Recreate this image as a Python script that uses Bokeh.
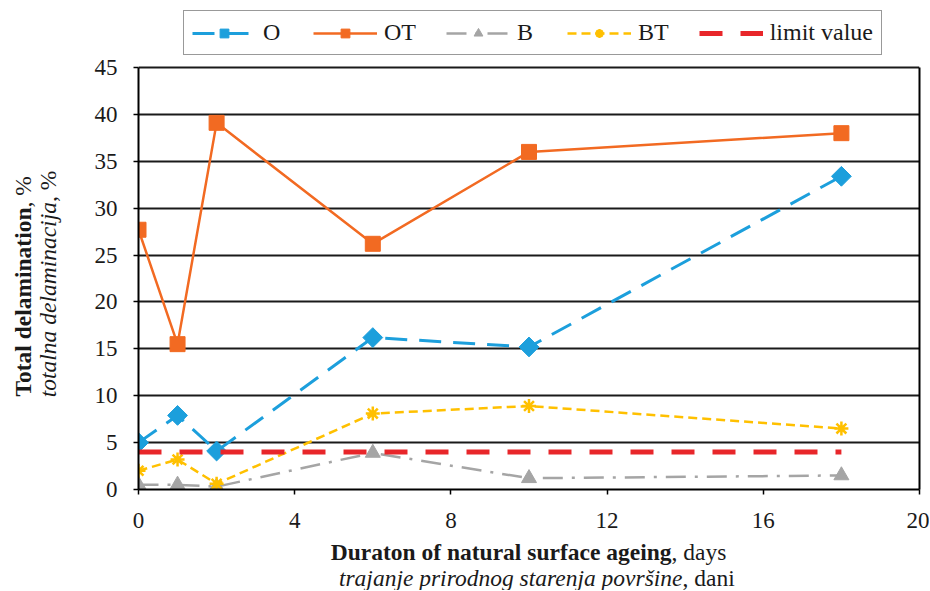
import math
from bokeh.plotting import figure
from bokeh.layouts import column, row
from bokeh.models import Legend, LegendItem, Label, FixedTicker, Range1d, LinearAxis
from bokeh.embed import file_html
from bokeh.resources import INLINE

days = [0, 1, 2, 6, 10, 18]
o_vals = [5.0, 7.9, 4.1, 16.2, 15.2, 33.4]
ot_vals = [27.7, 15.5, 39.1, 26.2, 36.0, 38.0]
b_vals = [0.5, 0.5, 0.3, 3.9, 1.2, 1.5]
bt_vals = [2.0, 3.2, 0.6, 8.1, 8.9, 6.5]
limit_x = [0, 18]
limit_vals = [4.0, 4.0]
x_ticks = [0, 4, 8, 12, 16, 20]
y_ticks = [0, 5, 10, 15, 20, 25, 30, 35, 40, 45]
y_max = 45

FONT = "Liberation Serif"
BLUE = "#1C9FDC"
ORANGE = "#F26A22"
GRAY = "#A5A5A5"
YELLOW = "#FFC000"
RED = "#E8262A"
TXT = "#1a1a1a"

TOTAL_W, TOTAL_H = 929, 590
LEFT_W = 70
MAIN_H = 540

# ---------------- main chart ----------------
p = figure(width=TOTAL_W - LEFT_W, height=MAIN_H, output_backend="svg",
           toolbar_location=None,
           x_range=Range1d(0, 20), y_range=Range1d(0, 51.72),
           min_border_left=68, min_border_right=10, min_border_top=4,
           min_border_bottom=51)
p.outline_line_color = None
p.xgrid.grid_line_color = None
p.ygrid.grid_line_color = "#1a1a1a"
p.ygrid.grid_line_width = 2
p.xaxis.ticker = FixedTicker(ticks=x_ticks)
p.yaxis.ticker = FixedTicker(ticks=y_ticks)
p.yaxis.bounds = (0, y_max)
for ax in (p.xaxis[0], p.yaxis[0]):
    ax.axis_line_color = "black"
    ax.axis_line_width = 2
    ax.major_tick_line_color = "black"
    ax.major_tick_line_width = 1.5
    ax.major_tick_out = 5
    ax.major_tick_in = 0
    ax.minor_tick_line_color = None
    ax.major_label_text_font = FONT
    ax.major_label_text_font_size = "23px"
    ax.major_label_text_color = TXT
p.xaxis.major_label_standoff = 18
p.yaxis.major_label_standoff = 16

right_axis = LinearAxis(ticker=FixedTicker(ticks=[]), bounds=(0, y_max),
                        axis_line_color="black", axis_line_width=2,
                        major_tick_out=0, major_tick_in=0,
                        minor_tick_line_color=None)
p.add_layout(right_axis, "right")

r_o_l = p.line(days, o_vals, line_color=BLUE, line_width=3, line_dash="22 12")
r_o_m = p.scatter(days, o_vals, marker="square", angle=math.pi / 4, size=14,
                  fill_color=BLUE, line_color=BLUE)
r_ot_l = p.line(days, ot_vals, line_color=ORANGE, line_width=2.5)
r_ot_m = p.scatter(days, ot_vals, marker="square", size=15,
                   fill_color=ORANGE, line_color=ORANGE)
r_b_l = p.line(days, b_vals, line_color=GRAY, line_width=2.5, line_dash="20 9 3 9")
r_b_m = p.scatter(days, b_vals, marker="triangle", size=15,
                  fill_color=GRAY, line_color=GRAY)
r_bt_l = p.line(days, bt_vals, line_color=YELLOW, line_width=2.5, line_dash="9 5")
r_bt_m = p.scatter(days, bt_vals, marker="asterisk", size=14,
                   line_color=YELLOW, line_width=2.5)
r_lim = p.line(limit_x, limit_vals, line_color=RED, line_width=5, line_dash="23 18")

legend = Legend(items=[
    LegendItem(label="O", renderers=[r_o_l, r_o_m]),
    LegendItem(label="OT", renderers=[r_ot_l, r_ot_m]),
    LegendItem(label="B", renderers=[r_b_l, r_b_m]),
    LegendItem(label="BT", renderers=[r_bt_l, r_bt_m]),
    LegendItem(label="limit value", renderers=[r_lim]),
], orientation="horizontal", location=(45, 434))
legend.label_text_font = FONT
legend.label_text_font_size = "24px"
legend.label_text_color = TXT
legend.glyph_width = 64
legend.glyph_height = 22
legend.label_standoff = 7
legend.spacing = 30
legend.padding = 8
legend.margin = 0
legend.border_line_color = "#333333"
legend.border_line_width = 1.5
legend.background_fill_alpha = 1
p.add_layout(legend, "center")

# ---------------- title strips ----------------
def strip(w, h, y0, y1):
    f = figure(width=w, height=h, output_backend="svg", toolbar_location=None,
               x_range=Range1d(0, w), y_range=Range1d(y1, y0),
               x_axis_location=None, y_axis_location=None,
               min_border=0, min_border_left=0, min_border_right=0,
               min_border_top=0, min_border_bottom=0)
    f.outline_line_color = None
    f.grid.grid_line_color = None
    return f

def lab(f, x, y, text, style="normal", align="left", angle=0):
    f.add_layout(Label(x=x, y=y, text=text, text_font=FONT, text_font_size="23.5px",
                       text_font_style=style, text_align=align,
                       text_baseline="middle", angle=angle, text_color=TXT))

left = strip(LEFT_W, MAIN_H, 0, MAIN_H)
lab(left, 22, 226, "Total delamination", "bold", "right", math.pi / 2)
lab(left, 22, 226, ", %", "normal", "left", math.pi / 2)
lab(left, 47, 220, "totalna delaminacija", "italic", "right", math.pi / 2)
lab(left, 47, 220, ", %", "normal", "left", math.pi / 2)

bottom = strip(TOTAL_W, TOTAL_H - MAIN_H, MAIN_H, TOTAL_H)
lab(bottom, 671, 551, "Duraton of natural surface ageing", "bold", "right")
lab(bottom, 671, 551, ", days")
lab(bottom, 682, 577, "trajanje prirodnog starenja površine", "italic", "right")
lab(bottom, 682, 577, ", dani")

layout = column(row(left, p), bottom)
open("out.html", "w").write(file_html(layout, INLINE))
